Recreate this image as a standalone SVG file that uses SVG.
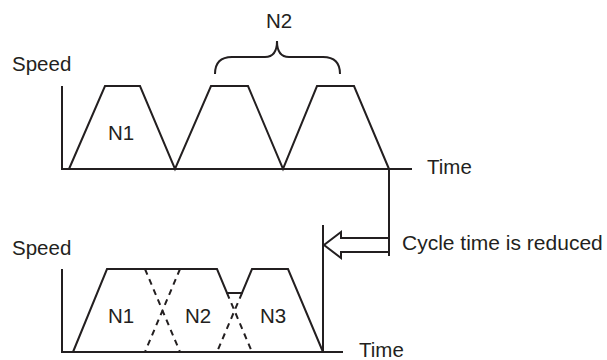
<svg xmlns="http://www.w3.org/2000/svg" width="607" height="360" viewBox="0 0 607 360">
<style>
.l{fill:none;stroke:#231f20;stroke-width:2;stroke-linejoin:miter}
.d{fill:none;stroke:#231f20;stroke-width:2;stroke-dasharray:6 5}
.t{font-family:"Liberation Sans",Arial,sans-serif;font-size:20.5px;fill:#231f20}
</style>
<rect width="607" height="360" fill="#fff"/>
<g id="top-chart">
<path class="l" d="M62 86 V169 H412"/>
<path class="l" d="M69 169 L105 86 H140 L175 169 L211 86 H248 L283 169 L317 86 H354 L389 169"/>
<path class="l" d="M215 74 Q215 57 232 57 H265 Q277 57 277 41 Q277 57 289 57 H323 Q340 57 340 74"/>
<text class="t" x="12" y="71">Speed</text>
<text class="t" x="108" y="140">N1</text>
<text class="t" x="266" y="28">N2</text>
<text class="t" x="427" y="174">Time</text>
</g>
<g id="bottom-chart">
<path class="l" d="M62 269 V352 H343"/>
<path class="l" d="M73 352 L107 269 H217 L227 293 H242 L252 269 H288 L323 352"/>
<path class="d" d="M145 269 L180 352 M180 269 L145 352 M227 293 L252 352 M242 293 L217 352"/>
<text class="t" x="12" y="255">Speed</text>
<text class="t" x="108" y="323">N1</text>
<text class="t" x="185" y="323">N2</text>
<text class="t" x="260" y="323">N3</text>
<text class="t" x="359" y="357">Time</text>
</g>
<g id="connectors">
<path class="l" d="M389 169 V256"/>
<path class="l" d="M323 225 V352"/>
<path class="l" d="M389 238 H341 V232 L324 245 L341 258 V252 H389"/>
</g>
<text class="t" x="402" y="250" style="font-size:21px">Cycle time is reduced</text>
</svg>
